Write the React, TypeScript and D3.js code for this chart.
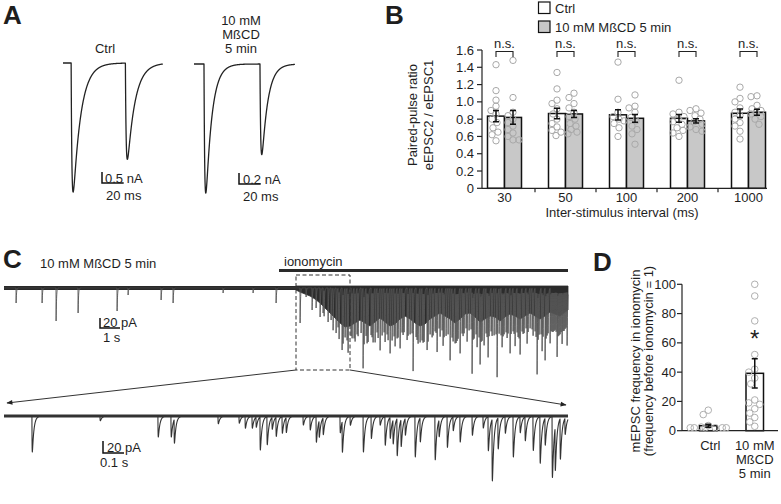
import React from "react";
import * as d3 from "d3";

const FONT = "'Liberation Sans', Arial, Helvetica, sans-serif";
const INK = "#1e1e1e";

// ---------------- Panel A : evoked EPSC pairs (ms, nA) ----------------
const aCtrlEventTimes = [7.5, 57.5];
const aCtrlEventAmps = [5.9, 4.4];
const aMbcdEventTimes = [9.2, 60.8];
const aMbcdEventAmps = [2.35, 1.65];

// ---------------- Panel B : paired-pulse ratio ----------------
const intervals = ["30", "50", "100", "200", "1000"];
const ctrlMean = [0.835, 0.865, 0.85, 0.81, 0.868];
const ctrlSem = [0.065, 0.06, 0.06, 0.045, 0.05];
const mbcdMean = [0.82, 0.86, 0.81, 0.78, 0.88];
const mbcdSem = [0.08, 0.04, 0.045, 0.025, 0.035];
const ctrlPoints = [
  [1.43, 1.13, 1.02, 0.95, 0.9, 0.86, 0.8, 0.76, 0.7, 0.65, 0.62, 0.55],
  [1.34, 1.15, 1.02, 0.98, 0.92, 0.86, 0.8, 0.75, 0.71, 0.67, 0.61, 0.65],
  [1.46, 1.03, 0.88, 0.83, 0.8, 0.78, 0.75, 0.7, 0.6],
  [1.25, 0.88, 0.86, 0.83, 0.8, 0.77, 0.74, 0.7, 0.67, 0.64, 0.6],
  [1.17, 1.04, 1.0, 0.93, 0.88, 0.84, 0.8, 0.76, 0.72, 0.66, 0.57],
];
const mbcdPoints = [
  [1.48, 1.05, 0.88, 0.84, 0.8, 0.76, 0.72, 0.68, 0.64, 0.6, 0.56, 0.56],
  [1.1, 1.05, 0.98, 0.93, 0.88, 0.83, 0.8, 0.75, 0.72, 0.68, 0.65, 0.63],
  [1.08, 0.95, 0.93, 0.88, 0.82, 0.78, 0.72, 0.68, 0.63, 0.51],
  [0.92, 0.9, 0.87, 0.84, 0.8, 0.77, 0.74, 0.71, 0.68, 0.66],
  [1.07, 1.06, 0.96, 0.92, 0.9, 0.88, 0.86, 0.83, 0.8, 0.74],
];
const yTicksB = [0, 0.2, 0.4, 0.6, 0.8, 1.0, 1.2, 1.4, 1.6];

// ---------------- Panel C : mEPSC traces ----------------
// upper trace: time (s), amplitude (pA)
const upperEventTimes = [
  0.6, 1.9, 2.6, 3.7, 5.65, 6.2, 7.85, 8.45, 10.95, 12.45, 13.6,
  14.8, 15.1, 15.4, 15.8, 15.95, 16.2, 16.45, 16.7, 16.9, 17.05, 17.2, 17.55, 17.95, 18.2,
  18.55, 18.8, 19.05, 19.3, 19.55, 19.8, 20.15, 20.45, 20.8, 21.15, 21.4, 21.65, 21.95,
  22.3, 22.55, 22.8, 23.15, 23.4, 23.65, 23.8, 24.0, 24.2, 24.65, 24.9, 25.3, 25.55, 25.8,
  26.15, 26.65, 26.9, 27.05, 27.3, 27.65, 27.9, 28.15,
  16.6, 17.4, 17.7, 18.1, 18.4, 18.7, 19.2, 19.7, 19.95, 20.3, 20.65, 20.95, 21.3, 21.55,
  21.8, 22.1, 22.45, 22.7, 22.95, 23.25, 23.5, 23.9, 24.1, 24.35, 24.5, 24.75, 25.0, 25.15,
  25.45, 25.7, 25.95, 26.3, 26.45, 26.75, 27.15, 27.45, 27.55, 27.8, 28.0,
  15.6, 16.0, 16.35, 16.75, 16.95, 17.15, 17.35, 17.5, 17.65, 17.85, 18.0, 18.15, 18.35, 18.45,
  18.65, 18.9, 19.0, 19.15, 19.4, 19.5, 19.65, 19.9, 20.0, 20.2, 20.4, 20.6, 20.7, 20.9, 21.0,
  21.2, 21.45, 21.6, 21.75, 21.9, 22.0, 22.2, 22.4, 22.6, 22.65, 22.9, 23.0, 23.1, 23.35, 23.45,
  23.6, 23.75, 23.85, 24.15, 24.25, 24.4, 24.6, 24.85, 24.95, 25.1, 25.2, 25.35, 25.5, 25.65,
  25.75, 25.9, 26.0, 26.1, 26.2, 26.4, 26.55, 26.6, 26.7, 26.85, 26.95, 27.1, 27.2, 27.35, 27.4,
  27.5, 27.6, 27.7, 27.75, 27.85, 27.95, 28.05, 28.1,
];
const upperEventAmps = [
  30, 30, 66, 50, 46, 14, 24, 30, 10, 10, 30,
  70, 18, 44, 58, 50, 68, 84, 78, 124, 98, 120, 98, 160, 98,
  108, 124, 100, 130, 108, 120, 104, 158, 108, 124, 98, 120, 108,
  144, 110, 130, 100, 164, 110, 144, 114, 130, 170, 110, 130, 108, 124,
  104, 164, 118, 144, 110, 130, 104, 108,
  90, 92, 88, 95, 90, 92, 96, 90, 86, 92, 95, 100, 92, 86,
  90, 95, 98, 92, 88, 84, 92, 96, 90, 86, 94, 90, 84, 92,
  86, 90, 84, 80, 88, 84, 86, 80, 76, 84, 78,
  40, 52, 64, 95, 100, 104, 96, 100, 92, 90, 98, 102, 94, 100,
  88, 94, 88, 92, 104, 96, 100, 88, 80, 86, 90, 98, 102, 104, 98,
  96, 86, 82, 80, 84, 88, 92, 98, 100, 96, 90, 82, 80, 82, 88,
  92, 98, 94, 90, 84, 88, 92, 94, 86, 88, 82, 80, 84, 88,
  92, 86, 82, 80, 78, 82, 86, 90, 88, 92, 86, 88, 82, 76, 80,
  78, 80, 84, 86, 80, 76, 74, 72,
];
// dense-activity band (lower envelope) during ionomycin
const bandTimes = [
  14.6, 14.8, 15.05, 15.3, 15.55, 15.8, 16.05, 16.3, 16.55, 16.8, 17.05, 17.3, 17.55, 17.8,
  18.05, 18.3, 18.55, 18.8, 19.05, 19.3, 19.55, 19.8, 20.05, 20.3, 20.55, 20.8, 21.05, 21.3,
  21.55, 21.8, 22.05, 22.3, 22.55, 22.8, 23.05, 23.3, 23.55, 23.8, 24.05, 24.3, 24.55, 24.8,
  25.05, 25.3, 25.55, 25.8, 26.05, 26.3, 26.55, 26.8, 27.05, 27.3, 27.55, 27.8, 28.05, 28.2,
];
const bandAmps = [
  4, 8, 12, 16, 22, 30, 40, 50, 60, 70, 78, 76, 70, 64,
  70, 76, 68, 60, 68, 76, 72, 62, 56, 62, 70, 76, 72, 62,
  56, 50, 56, 62, 70, 62, 52, 50, 58, 68, 62, 56, 58, 66,
  58, 52, 56, 62, 56, 50, 56, 62, 56, 48, 52, 56, 48, 44,
];
// lower (expanded) trace
const lowerEventTimes = [
  0.133, 0.457, 0.733, 0.795, 0.81, 1.019, 1.119, 1.148, 1.181, 1.2, 1.219, 1.252, 1.276, 1.295,
  1.324, 1.343, 1.424, 1.457, 1.486, 1.5, 1.519, 1.6, 1.61, 1.648, 1.71, 1.748, 1.79, 1.814,
  1.838, 1.852, 1.871, 1.89, 1.91, 1.957, 1.981, 2.052, 2.071, 2.11, 2.138, 2.171, 2.229, 2.281,
  2.305, 2.324, 2.352, 2.386, 2.424, 2.457, 2.481, 2.519, 2.552, 2.576, 2.61, 2.624, 2.648, 2.671,
];
const lowerEventAmps = [
  60, 8, 35, 35, 40, 13, 12, 20, 20, 17, 55, 47, 20, 32,
  28, 25, 15, 23, 43, 28, 28, 28, 52, 15, 60, 37, 15, 48,
  35, 40, 62, 45, 28, 68, 40, 73, 28, 52, 23, 43, 32, 20,
  57, 103, 52, 28, 68, 27, 40, 57, 78, 45, 102, 73, 68, 27,
];

// ---------------- Panel D ----------------
const dGroups = ["Ctrl", "MßCD"];
const dMeans = [3.4, 39.2];
const dSem = [1.0, 10];
const dCtrlPoints = [14, 11, 3.5, 2.5, 2, 2, 2, 2, 2, 2];
const dMbcdPoints = [100, 92, 75, 52, 42, 40, 36, 32, 21, 19, 18, 15, 12, 9, 6, 3];
const yTicksD = [0, 20, 40, 60, 80, 100];

type Ev = { t: number; a: number };
const zipEv = (ts: number[], as: number[]): Ev[] => ts.map((t, i) => ({ t, a: as[i] }));

function synthTrace(evs: Ev[], t0: number, t1: number, dt: number, tauR: number, tauD: number): [number, number][] {
  const tPeak = tauR * Math.log((tauR + tauD) / tauR);
  const norm = (1 - Math.exp(-tPeak / tauR)) * Math.exp(-tPeak / tauD);
  const times: number[] = [];
  for (let t = t0; t <= t1 + 1e-9; t += dt) times.push(t);
  evs.forEach((e) => {
    times.push(e.t);
    times.push(e.t + tPeak);
  });
  times.sort((a, b) => a - b);
  return times
    .filter((t) => t >= t0 && t <= t1)
    .map((t) => {
      let v = 0;
      for (const e of evs) {
        const s = t - e.t;
        if (s > 0 && s < tauD * 14) v += (e.a * (1 - Math.exp(-s / tauR)) * Math.exp(-s / tauD)) / norm;
      }
      return [t, -v] as [number, number];
    });
}

function swarm(vals: number[], ys: (v: number) => number, minD: number, maxOff: number) {
  const idx = vals.map((_, i) => i).sort((a, b) => vals[b] - vals[a]);
  const placed: { x: number; y: number }[] = [];
  const res: { v: number; dx: number }[] = [];
  for (const i of idx) {
    const y = ys(vals[i]);
    let best = 0;
    let bestScore = -Infinity;
    for (let k = 0; k <= maxOff * 2; k++) {
      const off = k === 0 ? 0 : k % 2 === 1 ? -(k + 1) / 2 : k / 2;
      let dmin = Infinity;
      for (const p of placed) dmin = Math.min(dmin, Math.hypot(p.x - off, p.y - y));
      if (dmin >= minD) {
        best = off;
        break;
      }
      if (dmin > bestScore) {
        bestScore = dmin;
        best = off;
      }
    }
    placed.push({ x: best, y });
    res.push({ v: vals[i], dx: best });
  }
  return res;
}

export default function App() {
  // ---------- A ----------
  const xA1 = d3.scaleLinear().domain([0, 92]).range([63, 63 + 92 * 1.085]);
  const yA1 = d3.scaleLinear().domain([0, -5.9]).range([63, 192]);
  const xA2 = d3.scaleLinear().domain([0, 93]).range([194, 194 + 93 * 1.085]);
  const yA2 = d3.scaleLinear().domain([0, -2.35]).range([64, 193]);
  const trA1 = synthTrace(zipEv(aCtrlEventTimes, aCtrlEventAmps), 0, 92, 0.1, 0.8, 7);
  const trA2 = synthTrace(zipEv(aMbcdEventTimes, aMbcdEventAmps), 0, 93, 0.1, 0.8, 5.5);
  const lineA1 = d3.line<[number, number]>().x((d) => xA1(d[0])).y((d) => yA1(d[1]));
  const lineA2 = d3.line<[number, number]>().x((d) => xA2(d[0])).y((d) => yA2(d[1]));

  // ---------- B ----------
  const xB = d3.scaleBand<string>().domain(intervals).range([474, 779]);
  const yB = d3.scaleLinear().domain([0, 1.6]).range([188.3, 50]);
  const bw = 17;

  // ---------- C ----------
  const xC1 = d3.scaleLinear().domain([0, 28.2]).range([4, 568]);
  const yC1 = d3.scaleLinear().domain([0, -100]).range([288, 338]);
  const trC1 = synthTrace(zipEv(upperEventTimes, upperEventAmps), 0, 28.2, 0.005, 0.002, 0.02);
  const lineC1 = d3.line<[number, number]>().x((d) => xC1(d[0])).y((d) => yC1(d[1]));
  const bandData = bandTimes.map((t, i) => [t, -bandAmps[i]] as [number, number]);
  const areaC1 = d3
    .area<[number, number]>()
    .x((d) => xC1(d[0]))
    .y0(() => yC1(0) - 2)
    .y1((d) => yC1(d[1]))
    .curve(d3.curveLinear);
  const xC2 = d3.scaleLinear().domain([0, 2.686]).range([4, 568]);
  const yC2 = d3.scaleLinear().domain([0, -100]).range([416, 476]);
  const trC2 = synthTrace(zipEv(lowerEventTimes, lowerEventAmps), 0, 2.686, 0.0004, 0.0008, 0.0075);
  const lineC2 = d3.line<[number, number]>().x((d) => xC2(d[0])).y((d) => yC2(d[1]));

  // ---------- D ----------
  const xD = d3.scaleBand<string>().domain(dGroups).range([685, 778]);
  const yD = d3.scaleLinear().domain([0, 100]).range([430.7, 284.3]);
  const dbw = 17.5;
  const dPts = [dCtrlPoints, dMbcdPoints];

  const txt = { fontFamily: FONT, fill: INK } as const;

  return (
    <svg
      width={781}
      height={504}
      viewBox="0 0 781 504"
      style={{ position: "absolute", left: 0, top: 0, background: "#fff" }}
    >
      <defs>
        <marker id="arr" viewBox="0 0 10 10" refX="9" refY="5" markerWidth="7" markerHeight="6" orient="auto" markerUnits="userSpaceOnUse">
          <path d="M0,1 L10,5 L0,9 z" fill="#222" />
        </marker>
      </defs>
      <rect x={0} y={0} width={781} height={504} fill="#fff" />

      {/* ================= Panel A ================= */}
      <text x={3} y={24} fontSize={26} fontWeight="bold" {...txt}>A</text>
      <text x={105} y={53} fontSize={13} textAnchor="middle" {...txt}>Ctrl</text>
      <text x={241} y={25} fontSize={13} textAnchor="middle" {...txt}>10 mM</text>
      <text x={241} y={39} fontSize={13} textAnchor="middle" {...txt}>MßCD</text>
      <text x={241} y={53} fontSize={13} textAnchor="middle" {...txt}>5 min</text>
      <path d={lineA1(trA1) ?? ""} fill="none" stroke="#222" strokeWidth={1.3} strokeLinejoin="round" />
      <path d={lineA2(trA2) ?? ""} fill="none" stroke="#222" strokeWidth={1.3} strokeLinejoin="round" />
      {/* scale bars A */}
      <path
        d={`M102,${183 - (yA1(-0.5) - yA1(0))} V183 H${102 + (xA1(20) - xA1(0))}`}
        fill="none"
        stroke="#111"
        strokeWidth={1.5}
      />
      <text x={105} y={183} fontSize={13} {...txt}>0.5 nA</text>
      <text x={106} y={200} fontSize={13} {...txt}>20 ms</text>
      <path
        d={`M239,${184 - (yA2(-0.2) - yA2(0))} V184 H${239 + (xA2(20) - xA2(0))}`}
        fill="none"
        stroke="#111"
        strokeWidth={1.5}
      />
      <text x={243} y={184} fontSize={13} {...txt}>0.2 nA</text>
      <text x={243} y={201} fontSize={13} {...txt}>20 ms</text>

      {/* ================= Panel B ================= */}
      <text x={385} y={24} fontSize={26} fontWeight="bold" {...txt}>B</text>
      <rect x={538.5} y={2} width={11.5} height={11.5} fill="#fff" stroke="#111" strokeWidth={1.2} />
      <text x={555} y={12.5} fontSize={13} {...txt}>Ctrl</text>
      <rect x={538.5} y={21} width={11.5} height={11.5} fill="#c8c8c8" stroke="#111" strokeWidth={1.2} />
      <text x={555} y={31.5} fontSize={13} {...txt}>10 mM MßCD 5 min</text>

      {/* y axis */}
      <line x1={482} x2={482} y1={yB(0)} y2={yB(1.6)} stroke="#222" strokeWidth={1.2} />
      {yTicksB.map((t) => (
        <g key={t}>
          <line x1={477} x2={482} y1={yB(t)} y2={yB(t)} stroke="#222" strokeWidth={1.2} />
          <text x={474} y={yB(t) + 4.6} fontSize={13} textAnchor="end" {...txt}>
            {t === 0 ? "0" : t.toFixed(1)}
          </text>
        </g>
      ))}
      <text transform={`translate(417,115) rotate(-90)`} fontSize={13} textAnchor="middle" {...txt}>Paired-pulse ratio</text>
      <text transform={`translate(433,115) rotate(-90)`} fontSize={13} textAnchor="middle" {...txt}>eEPSC2 / eEPSC1</text>

      {/* bars */}
      {intervals.map((iv, i) => {
        const c = (xB(iv) ?? 0) + xB.bandwidth() / 2;
        return (
          <g key={"bars" + iv}>
            <rect x={c - bw} y={yB(ctrlMean[i])} width={bw} height={yB(0) - yB(ctrlMean[i])} fill="#fff" stroke="#111" strokeWidth={1.5} />
            <rect x={c} y={yB(mbcdMean[i])} width={bw} height={yB(0) - yB(mbcdMean[i])} fill="#c8c8c8" stroke="#111" strokeWidth={1.5} />
          </g>
        );
      })}
      {/* x axis */}
      <line x1={482} x2={767} y1={yB(0)} y2={yB(0)} stroke="#222" strokeWidth={1.2} />
      {intervals.slice(1).map((iv) => (
        <line key={"tk" + iv} x1={xB(iv) ?? 0} x2={xB(iv) ?? 0} y1={yB(0)} y2={yB(0) + 4} stroke="#222" strokeWidth={1.2} />
      ))}
      {intervals.map((iv) => (
        <text key={"lb" + iv} x={(xB(iv) ?? 0) + xB.bandwidth() / 2} y={202} fontSize={13} textAnchor="middle" {...txt}>
          {iv}
        </text>
      ))}
      <text x={622} y={217} fontSize={13} textAnchor="middle" {...txt}>Inter-stimulus interval (ms)</text>

      {/* points */}
      {intervals.map((iv, i) => {
        const c = (xB(iv) ?? 0) + xB.bandwidth() / 2;
        const sw1 = swarm(ctrlPoints[i], (v) => yB(v), 6, 6);
        const sw2 = swarm(mbcdPoints[i], (v) => yB(v), 6, 6);
        return (
          <g key={"pts" + iv}>
            {sw1.map((p, j) => (
              <circle key={"a" + j} cx={c - bw / 2 + p.dx} cy={yB(p.v)} r={3.2} fill="none" stroke="#a9a9a9" strokeWidth={1} />
            ))}
            {sw2.map((p, j) => (
              <circle key={"b" + j} cx={c + bw / 2 + p.dx} cy={yB(p.v)} r={3.2} fill="none" stroke="#a9a9a9" strokeWidth={1} />
            ))}
          </g>
        );
      })}
      {/* error bars */}
      {intervals.map((iv, i) => {
        const c = (xB(iv) ?? 0) + xB.bandwidth() / 2;
        const items = [
          { x: c - bw / 2, m: ctrlMean[i], s: ctrlSem[i] },
          { x: c + bw / 2, m: mbcdMean[i], s: mbcdSem[i] },
        ];
        return (
          <g key={"err" + iv}>
            {items.map((it, j) => (
              <path
                key={j}
                d={`M${it.x},${yB(it.m - it.s)} V${yB(it.m + it.s)} M${it.x - 3},${yB(it.m + it.s)} H${it.x + 3} M${it.x - 3},${yB(it.m - it.s)} H${it.x + 3}`}
                stroke="#111"
                strokeWidth={1.5}
                fill="none"
              />
            ))}
            <path d={`M${c - bw / 2},57 V51.5 H${c + bw / 2} V57`} stroke="#222" strokeWidth={1.1} fill="none" />
            <text x={c} y={47.5} fontSize={13} textAnchor="middle" {...txt}>n.s.</text>
          </g>
        );
      })}

      {/* ================= Panel C ================= */}
      <text x={3} y={268} fontSize={26} fontWeight="bold" {...txt}>C</text>
      <text x={40} y={268} fontSize={13} {...txt}>10 mM MßCD 5 min</text>
      <text x={284} y={266} fontSize={13} {...txt}>ionomycin</text>
      <line x1={xC1(13.75)} x2={xC1(28.2)} y1={270.5} y2={270.5} stroke="#2a2a2a" strokeWidth={2.8} />

      <path d={areaC1(bandData) ?? ""} fill="#2c2c2c" stroke="#2c2c2c" strokeWidth={0.8} />
      <line x1={xC1(0)} x2={xC1(28.2)} y1={yC1(0)} y2={yC1(0)} stroke="#2a2a2a" strokeWidth={4} />
      <path d={lineC1(trC1) ?? ""} fill="none" stroke="#555" strokeWidth={0.9} />

      {/* scale bar upper */}
      <path d={`M100,${328 - (yC1(-20) - yC1(0))} V328 H${100 + (xC1(1) - xC1(0))}`} fill="none" stroke="#111" strokeWidth={1.5} />
      <text x={103} y={327} fontSize={13} {...txt}>20 pA</text>
      <text x={103} y={342} fontSize={13} {...txt}>1 s</text>

      {/* zoom box + arrows */}
      <rect x={296} y={275} width={54} height={95} fill="none" stroke="#333" strokeWidth={1} strokeDasharray="4 2.5" />
      <line x1={296} y1={370} x2={7} y2={403} stroke="#333" strokeWidth={1} markerEnd="url(#arr)" />
      <line x1={350} y1={370} x2={566} y2={405} stroke="#333" strokeWidth={1} markerEnd="url(#arr)" />

      <line x1={xC2(0)} x2={xC2(2.686)} y1={yC2(0)} y2={yC2(0)} stroke="#333" strokeWidth={2.8} />
      <path d={lineC2(trC2) ?? ""} fill="none" stroke="#333" strokeWidth={1.1} strokeLinejoin="round" />
      <path d={`M103,${453 - (yC2(-20) - yC2(0))} V453 H${103 + (xC2(0.1) - xC2(0))}`} fill="none" stroke="#111" strokeWidth={1.5} />
      <text x={107} y={452} fontSize={13} {...txt}>20 pA</text>
      <text x={100} y={467} fontSize={13} {...txt}>0.1 s</text>

      {/* ================= Panel D ================= */}
      <text x={593} y={271} fontSize={26} fontWeight="bold" {...txt}>D</text>
      <text transform={`translate(640,361) rotate(-90)`} fontSize={13} textAnchor="middle" {...txt}>mEPSC frequency in ionomycin</text>
      <text transform={`translate(653,361) rotate(-90)`} fontSize={13} textAnchor="middle" {...txt}>(frequency before ionomycin = 1)</text>
      <line x1={682} x2={682} y1={yD(0)} y2={yD(100)} stroke="#222" strokeWidth={1.2} />
      {yTicksD.map((t) => (
        <g key={"d" + t}>
          <line x1={677} x2={682} y1={yD(t)} y2={yD(t)} stroke="#222" strokeWidth={1.2} />
          <text x={676} y={yD(t) + 4.6} fontSize={13} textAnchor="end" {...txt}>{t}</text>
        </g>
      ))}
      {dGroups.map((g, i) => {
        const c = (xD(g) ?? 0) + xD.bandwidth() / 2;
        return (
          <rect key={"db" + g} x={c - dbw / 2} y={yD(dMeans[i])} width={dbw} height={yD(0) - yD(dMeans[i])} fill="#fff" stroke="#111" strokeWidth={1.5} />
        );
      })}
      <line x1={682} x2={778} y1={yD(0)} y2={yD(0)} stroke="#222" strokeWidth={1.2} />
      {dGroups.map((g, i) => {
        const c = (xD(g) ?? 0) + xD.bandwidth() / 2;
        const sw = swarm(dPts[i], (v) => yD(v), 6.6, 18);
        return (
          <g key={"dp" + g}>
            {sw.map((p, j) => (
              <circle key={j} cx={c + p.dx} cy={yD(p.v)} r={3.3} fill="none" stroke="#b0b0b0" strokeWidth={1} />
            ))}
            <path
              d={`M${c},${yD(dMeans[i] - dSem[i])} V${yD(dMeans[i] + dSem[i])} M${c - 3},${yD(dMeans[i] + dSem[i])} H${c + 3} M${c - 3},${yD(dMeans[i] - dSem[i])} H${c + 3}`}
              stroke="#111"
              strokeWidth={1.5}
              fill="none"
            />
          </g>
        );
      })}
      <text x={(xD("MßCD") ?? 0) + xD.bandwidth() / 2} y={347} fontSize={24} textAnchor="middle" {...txt}>*</text>
      <text x={(xD("Ctrl") ?? 0) + xD.bandwidth() / 2 + 2} y={450} fontSize={13} textAnchor="middle" {...txt}>Ctrl</text>
      <text x={(xD("MßCD") ?? 0) + xD.bandwidth() / 2} y={450} fontSize={13} textAnchor="middle" {...txt}>10 mM</text>
      <text x={(xD("MßCD") ?? 0) + xD.bandwidth() / 2} y={464} fontSize={13} textAnchor="middle" {...txt}>MßCD</text>
      <text x={(xD("MßCD") ?? 0) + xD.bandwidth() / 2} y={478} fontSize={13} textAnchor="middle" {...txt}>5 min</text>
    </svg>
  );
}
